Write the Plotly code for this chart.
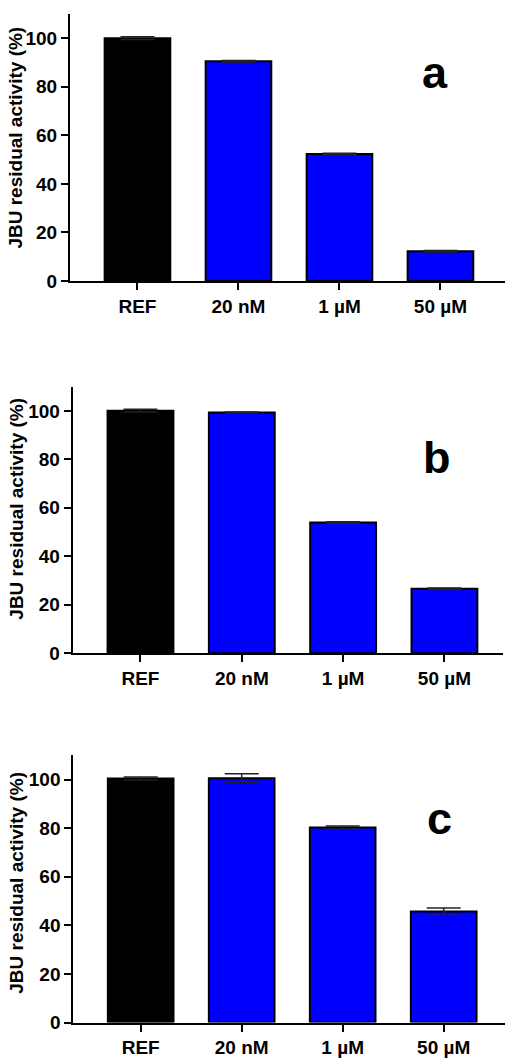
import plotly.graph_objects as go

categories = ["REF", "20 nM", "1 µM", "50 µM"]
x_pos = [0, 1, 2, 3]

vals_a = [100.0, 90.5, 52.3, 12.3]
err_a = [0.6, 0.3, 0.3, 0.3]
vals_b = [100.1, 99.3, 53.9, 26.6]
err_b = [0.6, 0.2, 0.3, 0.3]
vals_c = [100.5, 100.6, 80.3, 45.7]
err_c = [0.6, 1.8, 0.6, 1.5]

panel_letters = ["a", "b", "c"]
y_title = "JBU residual activity (%)"
y_ticks = [0, 20, 40, 60, 80, 100]

bar_colors = ["#000000", "#0000FF", "#0000FF", "#0000FF"]

W, H = 506, 1061
FONT = "Arial, Liberation Sans, sans-serif"

panels = [
    dict(x0=70, x1=505, y0=14, y1=284, xr=[-0.668, 3.639]),
    dict(x0=72.7, x1=503, y0=390.7, y1=660, xr=[-0.669, 3.578]),
    dict(x0=73.3, x1=505, y0=763.3, y1=1033.3, xr=[-0.667, 3.607]),
]
letter_pos = [(434.5, 73), (437, 462), (439, 827)]
ytitle_pos = [(16, 139), (17, 514), (17, 892)]

fig = go.Figure()
data_sets = [(vals_a, err_a), (vals_b, err_b), (vals_c, err_c)]
for i, (v, e) in enumerate(data_sets):
    sfx = "" if i == 0 else str(i + 1)
    fig.add_trace(go.Bar(
        x=x_pos, y=v,
        width=0.65,
        marker=dict(color=bar_colors, line=dict(color="#000000", width=2)),
        error_y=dict(type="data", array=e, visible=True, color="#222222",
                     thickness=1.5, width=17),
        xaxis="x" + sfx, yaxis="y" + sfx,
        showlegend=False,
    ))

tickfont = dict(family=FONT, size=19, color="#000000")
layout = dict(
    width=W, height=H,
    margin=dict(l=0, r=0, t=0, b=0),
    paper_bgcolor="white", plot_bgcolor="white",
    font=dict(family=FONT, color="#000000"),
    annotations=[],
)
for i, p in enumerate(panels):
    sfx = "" if i == 0 else str(i + 1)
    layout["xaxis" + sfx] = dict(
        domain=[p["x0"] / W, p["x1"] / W],
        range=p["xr"],
        anchor="y" + sfx,
        tickmode="array", tickvals=x_pos,
        ticktext=["<b>%s</b>" % c for c in categories],
        showline=True, linecolor="#000000", linewidth=2,
        ticks="outside", ticklen=7, tickwidth=2, tickcolor="#000000",
        tickfont=tickfont,
        showgrid=False, zeroline=False, fixedrange=True,
    )
    layout["yaxis" + sfx] = dict(
        domain=[1 - p["y1"] / H, 1 - p["y0"] / H],
        range=[0, 110],
        anchor="x" + sfx,
        tickmode="array", tickvals=y_ticks,
        ticktext=["<b>%d</b>" % t for t in y_ticks],
        showline=True, linecolor="#000000", linewidth=2,
        ticks="outside", ticklen=7, tickwidth=2, tickcolor="#000000",
        tickfont=tickfont, ticklabelstandoff=0,
        showgrid=False, zeroline=False, fixedrange=True,
    )
    lx, ly = letter_pos[i]
    layout["annotations"].append(dict(
        text="<b>%s</b>" % panel_letters[i], xref="paper", yref="paper",
        x=lx / W, y=1 - ly / H, xanchor="center", yanchor="middle",
        showarrow=False,
        font=dict(family=FONT, size=45, color="#000000"),
    ))
    tx, ty = ytitle_pos[i]
    layout["annotations"].append(dict(
        text="<b>%s</b>" % y_title, xref="paper", yref="paper",
        x=tx / W, y=1 - ty / H, xanchor="center", yanchor="middle",
        textangle=-90, showarrow=False,
        font=dict(family=FONT, size=19, color="#000000"),
    ))

fig.update_layout(**layout)
fig.write_html("out.html")
